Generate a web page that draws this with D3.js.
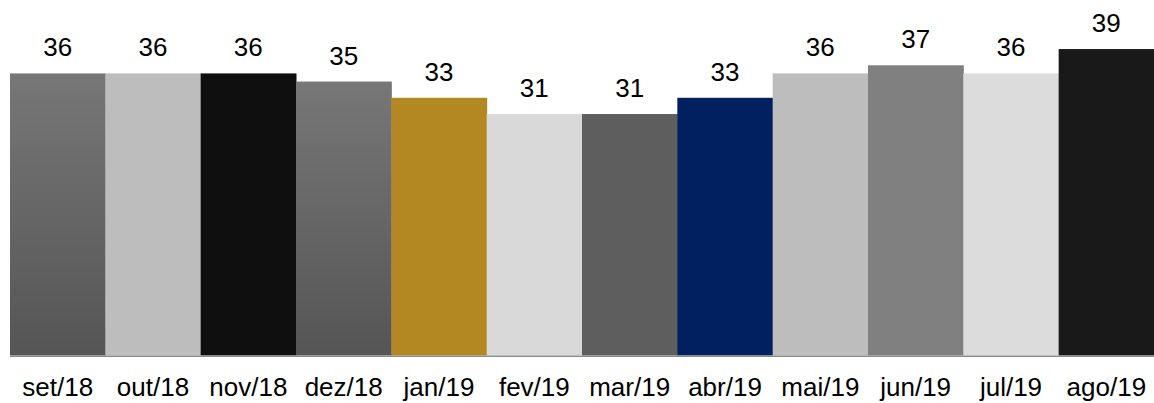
<!DOCTYPE html>
<html>
<head>
<meta charset="utf-8">
<script src="https://cdn.jsdelivr.net/npm/d3@7"></script>
<style>
  html, body { margin: 0; padding: 0; background: #ffffff; }
  svg { display: block; }
  text { font-family: "Liberation Sans", Arial, sans-serif; fill: #000; }
</style>
</head>
<body>
<svg id="chart" width="1154" height="403"></svg>
<script>
const categories = ["set/18", "out/18", "nov/18", "dez/18", "jan/19", "fev/19", "mar/19", "abr/19", "mai/19", "jun/19", "jul/19", "ago/19"];
const values = [36, 36, 36, 35, 33, 31, 31, 33, 36, 37, 36, 39];
const barColors = ["url(#grayGrad)", "#bdbdbd", "#0f0f0f", "url(#grayGrad)", "#b38822", "#d9d9d9", "#5e5e5e", "#002060", "#bdbdbd", "#808080", "#dcdcdc", "#191919"];

const svg = d3.select("#chart");
const W = 1154, H = 403;
const left = 10, right = 1154, baseY = 355.5;

const defs = svg.append("defs");
const grad = defs.append("linearGradient")
  .attr("id", "grayGrad").attr("x1", 0).attr("y1", 0).attr("x2", 0).attr("y2", 1);
grad.append("stop").attr("offset", "0%").attr("stop-color", "#777777");
grad.append("stop").attr("offset", "100%").attr("stop-color", "#555555");

const x = d3.scaleBand().domain(categories).range([left, right]).padding(0);
const y = d3.scaleLinear().domain([1.28, 45]).range([baseY, 0.3]);

const data = categories.map((c, i) => ({ c, v: values[i], color: barColors[i] }));

svg.append("g").selectAll("rect").data(data).join("rect")
  .attr("x", d => x(d.c))
  .attr("y", d => y(d.v))
  .attr("width", x.bandwidth() + 0.5)
  .attr("height", d => baseY - y(d.v))
  .attr("fill", d => d.color);

svg.append("g").selectAll("text").data(data).join("text")
  .attr("x", d => x(d.c) + x.bandwidth() / 2)
  .attr("y", d => y(d.v) - 17)
  .attr("text-anchor", "middle")
  .attr("font-size", "26px")
  .text(d => d.v);

// baseline axis
const axis = d3.axisBottom(x).tickSize(0).tickPadding(0);
const gAxis = svg.append("g").attr("transform", `translate(0,${baseY})`).call(axis);
gAxis.select(".domain").attr("stroke", "#8c8c8c").attr("stroke-width", 1.5).attr("d", `M${left},0.75H${right}`);
gAxis.selectAll(".tick text")
  .attr("y", 40.5)
  .attr("dy", 0)
  .attr("font-size", "26px")
  .attr("font-family", "'Liberation Sans', Arial, sans-serif")
  .attr("fill", "#000");
</script>
</body>
</html>
